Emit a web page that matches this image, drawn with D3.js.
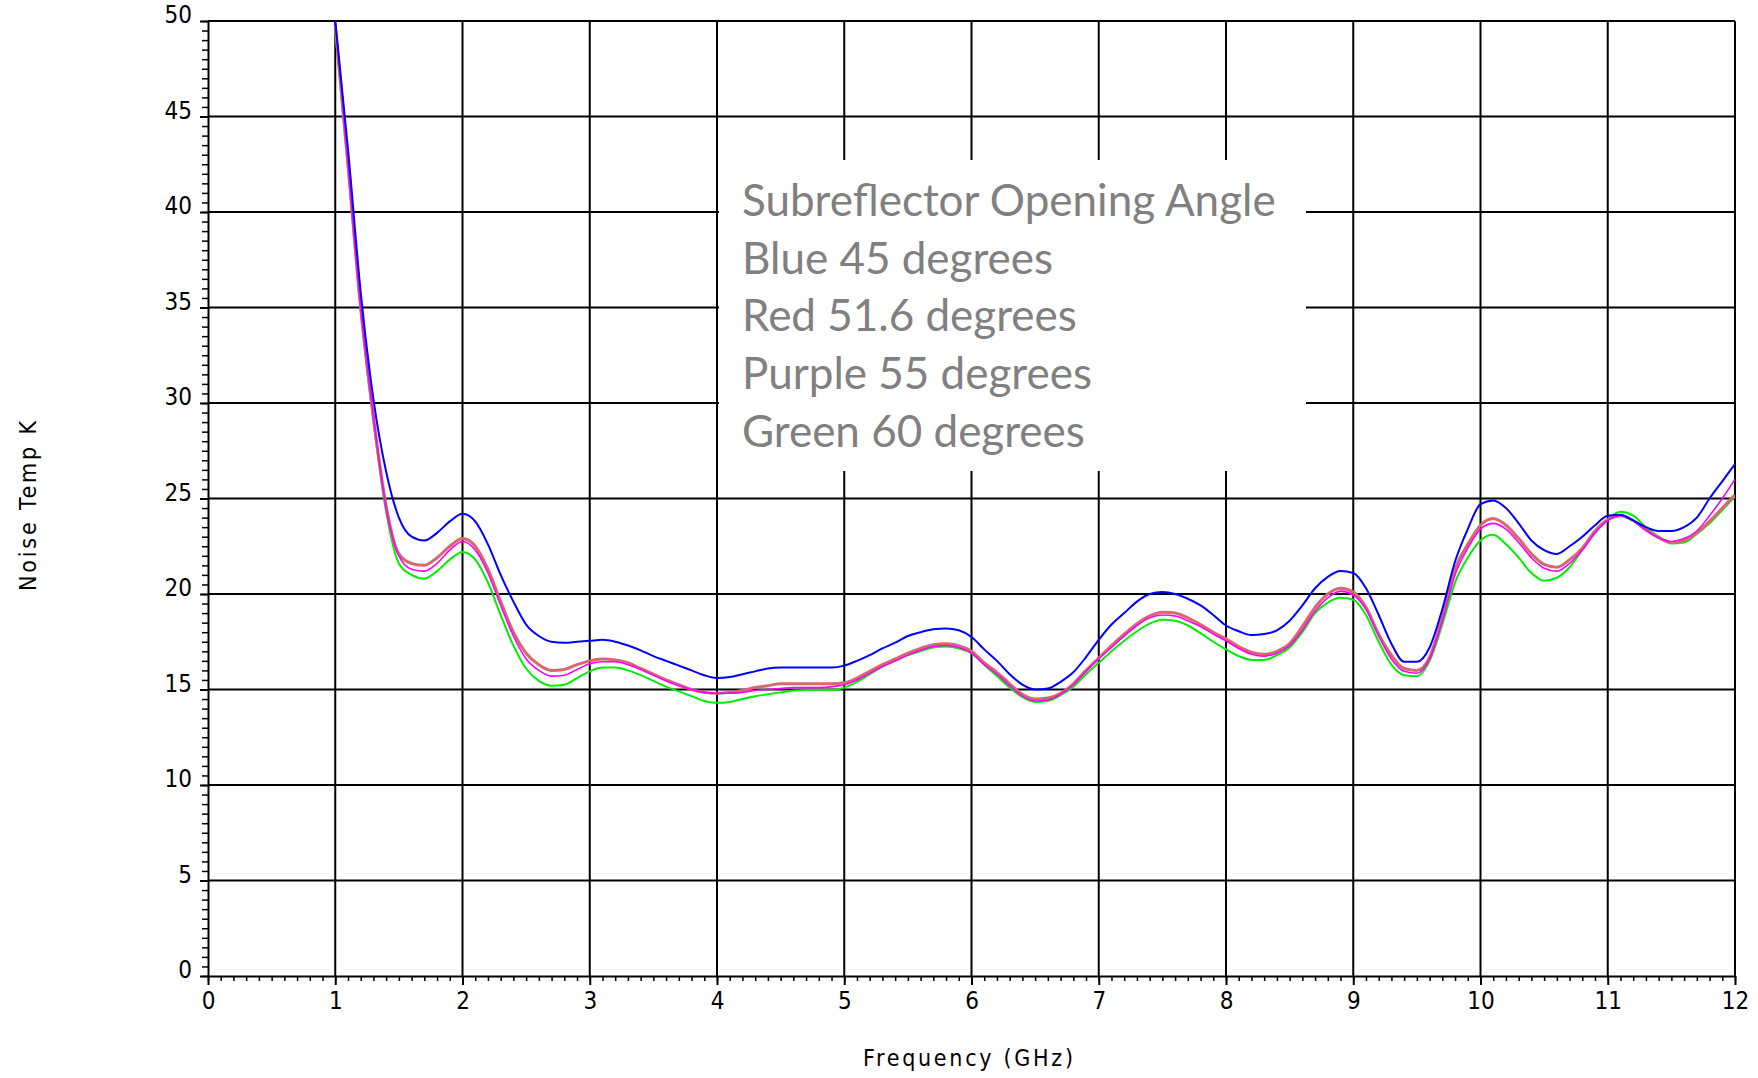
<!DOCTYPE html>
<html>
<head>
<meta charset="utf-8">
<script src="https://cdn.jsdelivr.net/npm/d3@7"></script>
<style>
    body { margin: 0; background: #fff; }
    svg { display: block; }
    .tick-label { font-family: "DejaVu Sans Condensed", "DejaVu Sans", sans-serif; font-size: 24px; fill: #000; }
    .axis-title { font-family: "DejaVu Sans Condensed", "DejaVu Sans", sans-serif; font-size: 23px; fill: #000; }
    .legend-text { font-family: Lato, "Open Sans", sans-serif; font-size: 44px; fill: #808080; }
</style>
</head>
<body>
<div id="chart"></div>
<script>
// Sample frequencies (GHz)
const freqs = [
    1.0, 1.1, 1.2, 1.3, 1.4, 1.5, 1.6, 1.7, 1.8, 1.9,
    2.0, 2.1, 2.2, 2.3, 2.4, 2.5, 2.6, 2.7, 2.8, 2.9,
    3.0, 3.1, 3.2, 3.3, 3.4, 3.5, 3.6, 3.7, 3.8, 3.9,
    4.0, 4.1, 4.2, 4.3, 4.4, 4.5, 4.6, 4.7, 4.8, 4.9,
    5.0, 5.1, 5.2, 5.3, 5.4, 5.5, 5.6, 5.7, 5.8, 5.9,
    6.0, 6.1, 6.2, 6.3, 6.4, 6.5, 6.6, 6.7, 6.8, 6.9,
    7.0, 7.1, 7.2, 7.3, 7.4, 7.5, 7.6, 7.7, 7.8, 7.9,
    8.0, 8.1, 8.2, 8.3, 8.4, 8.5, 8.6, 8.7, 8.8, 8.9,
    9.0, 9.1, 9.2, 9.3, 9.4, 9.5, 9.6, 9.7, 9.8, 9.9,
    10.0, 10.1, 10.2, 10.3, 10.4, 10.5, 10.6, 10.7, 10.8, 10.9,
    11.0, 11.1, 11.2, 11.3, 11.4, 11.5, 11.6, 11.7, 11.8, 11.9,
    12.0
];

// Noise temperature (K), one list per subreflector opening angle
const blue45 = [
    50, 43.3, 35.8, 30.2, 26.4, 24.0, 23.0, 22.8, 23.2, 23.8,
    24.2, 23.8, 22.6, 21.0, 19.6, 18.4, 17.8, 17.5, 17.45, 17.5,
    17.55, 17.6, 17.5, 17.3, 17.05, 16.75, 16.5, 16.25, 16.0, 15.75,
    15.6, 15.65, 15.8, 15.95, 16.1, 16.15, 16.15, 16.15, 16.15, 16.15,
    16.25, 16.5, 16.8, 17.15, 17.45, 17.8, 18.0, 18.15, 18.2, 18.1,
    17.75, 17.1, 16.5, 15.8, 15.25, 15.0, 15.05, 15.4, 15.9, 16.7,
    17.6, 18.4, 19.0, 19.6, 20.0, 20.1, 20.0, 19.75, 19.4, 18.9,
    18.35, 18.05, 17.85, 17.9, 18.1, 18.6, 19.4, 20.3, 20.9, 21.2,
    21.1, 20.3, 18.9, 17.4, 16.45, 16.45, 17.2, 19.2, 21.7, 23.4,
    24.7, 24.9, 24.5, 23.7, 22.8, 22.3, 22.1, 22.5, 23.0, 23.6,
    24.1, 24.15, 23.85, 23.5, 23.3, 23.3, 23.5, 24.0, 25.0, 25.9,
    26.8
];
const red516 = [
    49.8, 42.5, 35.0, 29.3, 24.6, 22.1, 21.6, 21.5, 21.9, 22.5,
    22.9, 22.5, 21.3, 19.6, 18.0, 16.9, 16.3, 16.0, 16.05, 16.3,
    16.5, 16.6, 16.55, 16.4, 16.1, 15.8, 15.5, 15.25, 15.0, 14.85,
    14.8, 14.85, 14.95, 15.1, 15.2, 15.3, 15.3, 15.3, 15.3, 15.3,
    15.35, 15.6, 15.95, 16.3, 16.6, 16.9, 17.15, 17.35, 17.4, 17.3,
    17.0, 16.4, 15.9, 15.3, 14.75, 14.5, 14.55, 14.8, 15.3, 16.0,
    16.65, 17.3, 17.9, 18.45, 18.85, 19.05, 19.0, 18.75, 18.4, 18.0,
    17.65, 17.25, 16.95, 16.85, 17.0, 17.4, 18.3, 19.3, 20.0, 20.3,
    20.1, 19.3, 17.9, 16.8, 16.1, 16.0, 16.7, 18.8, 21.3, 22.6,
    23.6, 23.95, 23.6, 22.9, 22.1, 21.55, 21.4, 21.8, 22.4, 23.3,
    23.9, 24.1, 23.85, 23.35, 22.95, 22.7, 22.8, 23.2, 23.8, 24.5,
    25.2
];
const purple55 = [
    50, 42.5, 35.0, 29.3, 24.5, 22.0, 21.3, 21.2, 21.6, 22.3,
    22.75, 22.3, 21.1, 19.4, 17.8, 16.6, 16.0, 15.7, 15.75, 16.05,
    16.35, 16.45, 16.45, 16.3, 16.05, 15.75, 15.45, 15.2, 15.0, 14.85,
    14.8, 14.8, 14.85, 14.95, 15.0, 15.05, 15.1, 15.1, 15.1, 15.15,
    15.25, 15.5, 15.85, 16.2, 16.5, 16.8, 17.05, 17.25, 17.3, 17.2,
    16.9, 16.3, 15.8, 15.2, 14.65, 14.4, 14.45, 14.75, 15.25, 15.95,
    16.6, 17.2, 17.8, 18.35, 18.75, 18.9, 18.85, 18.6, 18.3, 17.9,
    17.55, 17.15, 16.85, 16.75, 16.9, 17.3, 18.1, 19.1, 19.8, 20.15,
    19.95, 19.2, 17.8, 16.6, 15.95, 15.85, 16.6, 18.6, 21.0, 22.4,
    23.4, 23.7, 23.4, 22.7, 21.9, 21.35, 21.2, 21.6, 22.3, 23.2,
    23.85, 24.1, 23.85, 23.35, 22.95, 22.75, 22.9, 23.3, 24.1, 25.0,
    26.0
];
const green60 = [
    49.5, 42.3, 34.8, 29.0, 24.3, 21.6, 21.0, 20.8, 21.2, 21.8,
    22.2, 21.8, 20.6, 18.9, 17.3, 16.1, 15.45, 15.2, 15.25, 15.6,
    15.95, 16.15, 16.15, 16.0, 15.75, 15.45, 15.15, 14.9, 14.65, 14.4,
    14.3, 14.35, 14.5, 14.65, 14.75, 14.85, 14.95, 14.97, 14.97, 14.97,
    15.1, 15.4, 15.8, 16.2, 16.5, 16.8, 17.0, 17.2, 17.25, 17.15,
    16.9, 16.3, 15.7, 15.1, 14.6, 14.35, 14.4, 14.7, 15.15, 15.8,
    16.4, 17.0, 17.55, 18.05, 18.45, 18.65, 18.6, 18.35, 17.95, 17.5,
    17.1, 16.75, 16.55, 16.55, 16.8, 17.2, 18.0, 19.0, 19.55, 19.8,
    19.7, 18.9, 17.5, 16.3, 15.75, 15.7, 16.5, 18.4, 20.6, 21.9,
    22.8, 23.1, 22.6, 21.9, 21.1, 20.7, 20.85, 21.4, 22.3, 23.2,
    23.9, 24.3, 24.1, 23.5, 23.0, 22.65, 22.7, 23.15, 23.7, 24.4,
    25.1
];

// Axis ticks
const xMajorTicks = [0, 1, 2, 3, 4, 5, 6, 7, 8, 9, 10, 11, 12];
const yMajorTicks = [0, 5, 10, 15, 20, 25, 30, 35, 40, 45, 50];

const legendLines = [
    "Subreflector Opening Angle",
    "Blue 45 degrees",
    "Red 51.6 degrees",
    "Purple 55 degrees",
    "Green 60 degrees"
];

// Drawing order matters: red sits beneath purple
const series = [
    { name: "Green 60", values: green60, color: "#00ee00", width: 2 },
    { name: "Red 51.6", values: red516, color: "#d46a6a", width: 3 },
    { name: "Purple 55", values: purple55, color: "#ff00ff", width: 1.6 },
    { name: "Blue 45", values: blue45, color: "#0000ff", width: 2 }
];

const W = 1758, H = 1078;
const plot = { left: 208, right: 1735, top: 21, bottom: 976 };

const svg = d3.select("#chart")
    .append("svg")
    .attr("width", W)
    .attr("height", H);

const x = d3.scaleLinear().domain([0, 12]).range([plot.left, plot.right]);
const y = d3.scaleLinear().domain([0, 50]).range([plot.bottom, plot.top]);

// Grid lines
const grid = svg.append("g").attr("stroke", "#000").attr("stroke-width", 2);
grid.selectAll(".vgrid")
    .data(xMajorTicks.slice(1))
    .enter()
    .append("line")
    .attr("x1", d => x(d)).attr("x2", d => x(d))
    .attr("y1", y(0)).attr("y2", y(50));
grid.selectAll(".hgrid")
    .data(yMajorTicks.slice(1))
    .enter()
    .append("line")
    .attr("x1", x(0)).attr("x2", x(12))
    .attr("y1", d => y(d)).attr("y2", d => y(d));

// Minor ticks
svg.append("g")
    .attr("transform", `translate(0,${plot.bottom})`)
    .call(d3.axisBottom(x).ticks(120).tickSize(5).tickFormat(""))
    .call(g => g.select(".domain").remove())
    .selectAll("line").attr("stroke-width", 1.5);
svg.append("g")
    .attr("transform", `translate(${plot.left},0)`)
    .call(d3.axisLeft(y).ticks(100).tickSize(6).tickFormat(""))
    .call(g => g.select(".domain").remove())
    .selectAll("line").attr("stroke-width", 1.5);

// Major axes
const xAxis = svg.append("g")
    .attr("transform", `translate(0,${plot.bottom})`)
    .call(d3.axisBottom(x).tickValues(xMajorTicks).tickSize(9).tickSizeOuter(0).tickPadding(7));
const yAxis = svg.append("g")
    .attr("transform", `translate(${plot.left},0)`)
    .call(d3.axisLeft(y).tickValues(yMajorTicks).tickSize(8).tickSizeOuter(0).tickPadding(8));

[xAxis, yAxis].forEach(ax => {
    ax.attr("font-family", null).attr("font-size", null);
    ax.select(".domain").attr("stroke-width", 2);
    ax.selectAll(".tick line").attr("stroke-width", 2);
    ax.selectAll(".tick text").attr("class", "tick-label");
});
yAxis.selectAll(".tick text").attr("dy", "0.08em");

// Legend box covering the grid
const legend = svg.append("g");
legend.append("rect")
    .attr("x", x(4) + 2)
    .attr("y", 160)
    .attr("width", 1306 - x(4) - 2)
    .attr("height", 311)
    .attr("fill", "#fff");
legend.selectAll("text")
    .data(legendLines)
    .enter()
    .append("text")
    .attr("class", "legend-text")
    .attr("x", 742)
    .attr("y", (d, i) => 216 + i * 57.7)
    .text(d => d);

// Curves
svg.append("clipPath").attr("id", "plot-clip")
    .append("rect")
    .attr("x", plot.left).attr("y", plot.top)
    .attr("width", plot.right - plot.left)
    .attr("height", plot.bottom - plot.top);

const line = d3.line()
    .x((d, i) => x(freqs[i]))
    .y(d => y(d))
    .curve(d3.curveMonotoneX);

svg.append("g")
    .attr("clip-path", "url(#plot-clip)")
    .selectAll("path")
    .data(series)
    .enter()
    .append("path")
    .attr("fill", "none")
    .attr("stroke", d => d.color)
    .attr("stroke-width", d => d.width)
    .attr("d", d => line(d.values));

// Axis titles
svg.append("text")
    .attr("class", "axis-title")
    .attr("x", 968)
    .attr("y", 1066)
    .attr("text-anchor", "middle")
    .attr("textLength", 210)
    .attr("lengthAdjust", "spacing")
    .text("Frequency (GHz)");

svg.append("text")
    .attr("class", "axis-title")
    .attr("transform", "translate(36,506) rotate(-90)")
    .attr("text-anchor", "middle")
    .attr("textLength", 170)
    .attr("lengthAdjust", "spacing")
    .text("Noise Temp K");
</script>
</body>
</html>
